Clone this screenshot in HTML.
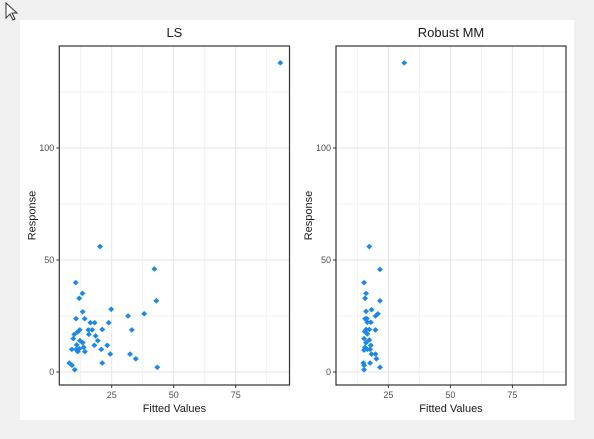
<!DOCTYPE html>
<html><head><meta charset="utf-8"><style>
body{margin:0;width:594px;height:439px;background:#f0f0f0;overflow:hidden;font-family:"Liberation Sans",sans-serif}
#wrap{position:absolute;left:20px;top:20px;width:554px;height:400px;background:#fff}
</style></head><body>
<div id="wrap"></div>
<svg id="chart" width="594" height="439" style="position:absolute;left:0;top:0">
<path d="M6 3 L6 18 L10 14 L13 20 L15 19 L12 13 L17 13 Z" fill="#fff" stroke="#333" stroke-width="1"/>
</svg>
<script>
const lsFitted=[93,20.3,42.2,10.5,13.2,11.9,43,13.3,24.8,31.6,38.1,10.6,14.1,16.4,18.1,23.8,12.1,15.6,17.1,21.2,33.1,9.9,11.3,15.8,18.5,9.5,12.2,13.3,19.4,10.9,13.7,18,23.2,8.9,10.6,11.9,20.8,11.3,14.2,24.4,32.4,34.7,21.2,7.9,9,10.1,43.4];
const lsResponse=[138,56,46,39.9,35.1,32.9,31.8,26.9,28,25,26,23.8,23.8,22,22,22,18.8,18.8,18.8,19,18.8,16.8,17.9,16.8,16.1,14.9,14,13.1,14,12.1,11,11.9,11.9,10.1,10.1,10.4,10.1,9.1,9.1,8,8,5.9,4,4,3,1,2.1];
const mmFitted=[31.4,17.3,21.6,15.2,16,15.6,21.6,16,18.2,20.8,19.8,15.6,16.3,16.5,17.9,16,17.3,19.8,15.5,16.5,15.2,17.3,16,17.9,15.5,16.5,15.2,17.6,18.2,19.8,20.2,17.6,14.9,15.2,15.2,21.6];
const mmResponse=[138,56,45.8,39.9,35.1,32.9,31.8,27.1,27.8,26,25,23.8,23.8,22.2,22.2,19,19,18.8,18,17,14.9,14.3,13.1,11.9,11,10.1,9.8,10.1,8,8,5.9,4,4,3,1,2.1];
const xTicks=[25,50,75];
const yTicks=[0,50,100];
const xMinor=[12.5,37.5,62.5,87.5];
const yMinor=[25,75,125];
const titles=["LS","Robust MM"];
const NS="http://www.w3.org/2000/svg";
const svg=document.getElementById('chart');
function mk(t,a){const e=document.createElementNS(NS,t);for(const k in a)e.setAttribute(k,a[k]);svg.appendChild(e);return e;}
const pTop=46,pBot=385;
const yScale=v=>372-v*2.24;
function panel(left,right,x0,title,xs,ys){
  const xScale=v=>x0+v*2.48;
  xMinor.forEach(v=>{const l=mk('line',{x1:xScale(v),x2:xScale(v),y1:pTop,y2:pBot,stroke:'#f2f2f2','stroke-width':1});
    
    });
  yMinor.forEach(v=>{const l=mk('line',{x1:left,x2:right,y1:yScale(v),y2:yScale(v),stroke:'#f2f2f2','stroke-width':1});
    
    });
  xTicks.forEach(v=>{const l=mk('line',{x1:xScale(v),x2:xScale(v),y1:pTop,y2:pBot,stroke:'#e6e6e6','stroke-width':1});
    
    
    const tk=mk('line',{x1:xScale(v),x2:xScale(v),y1:pBot,y2:pBot+3,stroke:'#333'});
    
    
    const t=mk('text',{x:xScale(v),y:pBot+13,'text-anchor':'middle','font-size':9,fill:'#4d4d4d'});t.textContent=v;
    
    });
  yTicks.forEach(v=>{const l=mk('line',{x1:left,x2:right,y1:yScale(v),y2:yScale(v),stroke:'#e6e6e6','stroke-width':1});
    
    
    const tk=mk('line',{x1:left-3,x2:left,y1:yScale(v),y2:yScale(v),stroke:'#333'});
    
    
    const t=mk('text',{x:left-5,y:yScale(v)+3,'text-anchor':'end','font-size':9,fill:'#4d4d4d'});t.textContent=v;
    
    });
  const r=mk('rect',{x:left,y:pTop,width:right-left,height:pBot-pTop,fill:'none',stroke:'#333','stroke-width':1.2});
  
  
  xs.forEach((v,i)=>{const cx=xScale(v),cy=yScale(ys[i]);
    const p=mk('path',{d:`M${cx-3} ${cy} L${cx} ${cy-2.8} L${cx+3} ${cy} L${cx} ${cy+2.8} Z`,fill:'#1e88e5'});
    
    });
  const t=mk('text',{x:(left+right)/2,y:37,'text-anchor':'middle','font-size':13,fill:'#1a1a1a'});t.textContent=title;
  
  
  const xt=mk('text',{x:(left+right)/2,y:412,'text-anchor':'middle','font-size':11,fill:'#1a1a1a'});xt.textContent='Fitted Values';
  
  
  const yx=left-24,yy=(pTop+pBot)/2;
  const yt=mk('text',{x:yx,y:yy,'text-anchor':'middle','font-size':11,fill:'#1a1a1a',transform:`rotate(-90 ${yx} ${yy})`});yt.textContent='Response';
  
  
}
panel(59.3,289.5,49.7,titles[0],lsFitted,lsResponse);
panel(336,566,326.4,titles[1],mmFitted,mmResponse);
</script>
</body></html>
